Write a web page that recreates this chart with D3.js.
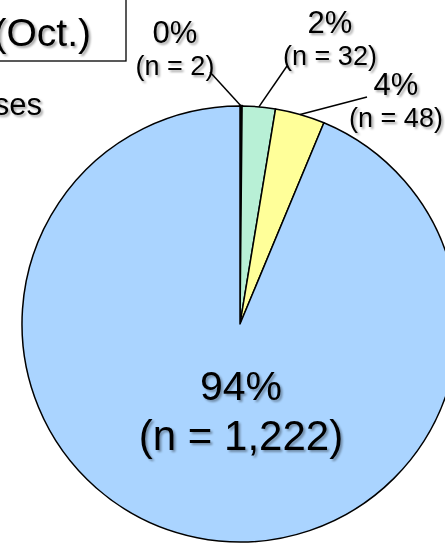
<!DOCTYPE html>
<html>
<head>
<meta charset="utf-8">
<script src="https://cdn.jsdelivr.net/npm/d3@7"></script>
<style>
  html, body { margin: 0; padding: 0; background: #fff; }
  svg { display: block; }
  text { font-family: "Liberation Sans", Arial, sans-serif; fill: #000; }
</style>
</head>
<body>
<div id="chart"></div>
<script>
// Response counts per category, in clockwise order from 12 o'clock
const categories = ["A", "B", "C", "D"];
const counts = [2, 32, 48, 1222];
const percentLabels = ["0%", "2%", "4%", "94%"];
const countLabels = ["(n = 2)", "(n = 32)", "(n = 48)", "(n = 1,222)"];
const colors = ["#F7C6D0", "#B8F0D6", "#FFFF99", "#AAD4FF"];

const width = 445, height = 543;
const cx = 240, cy = 324, radius = 218;

// Where each small-slice callout sits (label centre) and where its leader starts
const callouts = [
  { lx: 175, ly: 43, sx: 210, sy: 72 },
  { lx: 330, ly: 33, sx: 287, sy: 66 },
  { lx: 396, ly: 95, sx: 367, sy: 97 },
  null
];

const svg = d3.select("#chart").append("svg")
  .attr("width", width).attr("height", height);

const defs = svg.append("defs");
const shadow = defs.append("filter").attr("id", "txtShadow")
  .attr("x", "-10%").attr("y", "-10%").attr("width", "130%").attr("height", "140%");
shadow.append("feDropShadow")
  .attr("dx", 2).attr("dy", 2).attr("stdDeviation", 1.2)
  .attr("flood-color", "#000").attr("flood-opacity", 0.35);

// Title box (continues beyond the top-left edge)
svg.append("rect")
  .attr("x", -20).attr("y", -20).attr("width", 146).attr("height", 81)
  .attr("fill", "#fff").attr("stroke", "#000").attr("stroke-width", 1.3);
svg.append("text")
  .attr("x", 91).attr("y", 46).attr("text-anchor", "end")
  .attr("font-size", 39).attr("filter", "url(#txtShadow)")
  .text("(Oct.)");
svg.append("text")
  .attr("x", 42).attr("y", 115).attr("text-anchor", "end")
  .attr("font-size", 31).attr("filter", "url(#txtShadow)")
  .text("Responses");

const data = categories.map((c, i) => ({ key: c, value: counts[i], i }));
const pie = d3.pie().sort(null).value(d => d.value).startAngle(0).endAngle(2 * Math.PI);
const arcs = pie(data);
const arc = d3.arc().innerRadius(0).outerRadius(radius);

const g = svg.append("g").attr("transform", `translate(${cx},${cy})`);
g.selectAll("path.slice").data(arcs).join("path")
  .attr("class", "slice")
  .attr("d", arc)
  .attr("fill", d => colors[d.data.i])
  .attr("stroke", "#000")
  .attr("stroke-width", d => d.data.i === 0 ? 2.5 : 1.5)
  .attr("stroke-linejoin", "round");

// Leader lines and callout labels for the small slices
arcs.forEach(a => {
  const c = callouts[a.data.i];
  if (!c) return;
  const mid = (a.startAngle + a.endAngle) / 2;
  const ex = cx + radius * Math.sin(mid);
  const ey = cy - radius * Math.cos(mid);
  svg.append("line")
    .attr("x1", c.sx).attr("y1", c.sy).attr("x2", ex).attr("y2", ey)
    .attr("stroke", "#000").attr("stroke-width", 1.5);
  const t = svg.append("text")
    .attr("text-anchor", "middle")
    .attr("filter", "url(#txtShadow)");
  t.append("tspan").attr("x", c.lx).attr("y", c.ly).attr("font-size", 31)
    .text(percentLabels[a.data.i]);
  t.append("tspan").attr("x", c.lx).attr("y", c.ly + 32).attr("font-size", 27)
    .text(countLabels[a.data.i]);
});

// Label inside the large slice
const big = arcs[3];
const bt = svg.append("text")
  .attr("text-anchor", "middle")
  .attr("filter", "url(#txtShadow)");
bt.append("tspan").attr("x", 241).attr("y", 400).attr("font-size", 41)
  .text(percentLabels[big.data.i]);
bt.append("tspan").attr("x", 241).attr("y", 450).attr("font-size", 42)
  .text(countLabels[big.data.i]);
</script>
</body>
</html>
